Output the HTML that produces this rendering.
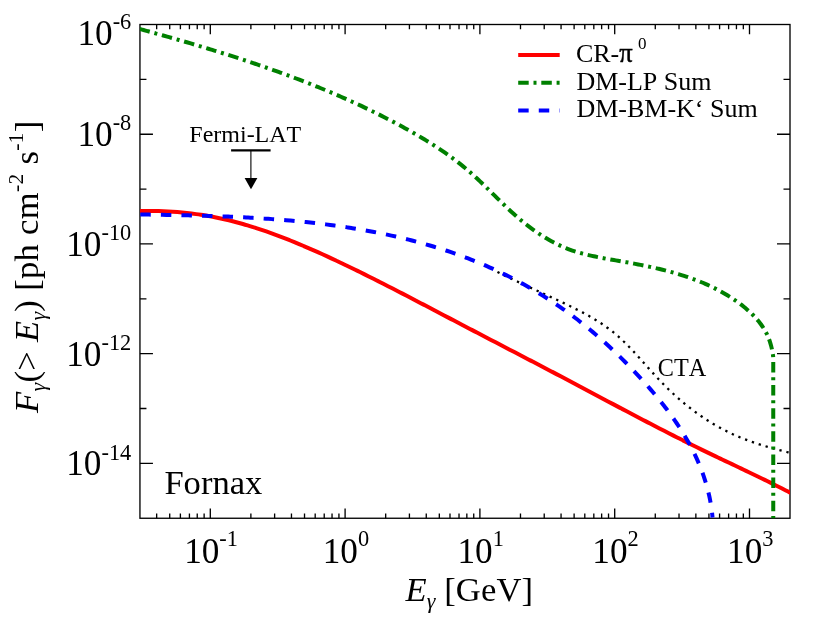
<!DOCTYPE html>
<html><head><meta charset="utf-8"><title>Fornax gamma-ray flux</title>
<style>
html,body{margin:0;padding:0;background:#fff;}
body{width:822px;height:617px;overflow:hidden;}
svg{display:block;will-change:transform;}
text{font-family:"Liberation Serif",serif;fill:#000;font-kerning:none;font-variant-ligatures:none;}
.it{font-style:italic;}
</style></head><body>
<svg width="822" height="617" viewBox="0 0 822 617">
<rect x="0" y="0" width="822" height="617" fill="#fff"/>
<defs><clipPath id="clip"><rect x="139.95" y="24.50" width="650.05" height="493.75"/></clipPath></defs>

<g stroke="#000" stroke-width="1.33" fill="none" stroke-linecap="butt">
<rect x="139.95" y="24.50" width="650.05" height="493.75"/>
<g stroke-width="1.33">
<path d="M156.66,24.50v4.70M156.66,518.25v-4.70"/>
<path d="M169.72,24.50v4.70M169.72,518.25v-4.70"/>
<path d="M180.39,24.50v4.70M180.39,518.25v-4.70"/>
<path d="M189.42,24.50v4.70M189.42,518.25v-4.70"/>
<path d="M197.24,24.50v4.70M197.24,518.25v-4.70"/>
<path d="M204.13,24.50v4.70M204.13,518.25v-4.70"/>
<path d="M210.30,24.50v9.70M210.30,518.25v-9.70"/>
<path d="M250.88,24.50v4.70M250.88,518.25v-4.70"/>
<path d="M274.62,24.50v4.70M274.62,518.25v-4.70"/>
<path d="M291.46,24.50v4.70M291.46,518.25v-4.70"/>
<path d="M304.52,24.50v4.70M304.52,518.25v-4.70"/>
<path d="M315.19,24.50v4.70M315.19,518.25v-4.70"/>
<path d="M324.22,24.50v4.70M324.22,518.25v-4.70"/>
<path d="M332.04,24.50v4.70M332.04,518.25v-4.70"/>
<path d="M338.93,24.50v4.70M338.93,518.25v-4.70"/>
<path d="M345.10,24.50v9.70M345.10,518.25v-9.70"/>
<path d="M385.68,24.50v4.70M385.68,518.25v-4.70"/>
<path d="M409.42,24.50v4.70M409.42,518.25v-4.70"/>
<path d="M426.26,24.50v4.70M426.26,518.25v-4.70"/>
<path d="M439.32,24.50v4.70M439.32,518.25v-4.70"/>
<path d="M449.99,24.50v4.70M449.99,518.25v-4.70"/>
<path d="M459.02,24.50v4.70M459.02,518.25v-4.70"/>
<path d="M466.84,24.50v4.70M466.84,518.25v-4.70"/>
<path d="M473.73,24.50v4.70M473.73,518.25v-4.70"/>
<path d="M479.90,24.50v9.70M479.90,518.25v-9.70"/>
<path d="M520.48,24.50v4.70M520.48,518.25v-4.70"/>
<path d="M544.22,24.50v4.70M544.22,518.25v-4.70"/>
<path d="M561.06,24.50v4.70M561.06,518.25v-4.70"/>
<path d="M574.12,24.50v4.70M574.12,518.25v-4.70"/>
<path d="M584.79,24.50v4.70M584.79,518.25v-4.70"/>
<path d="M593.82,24.50v4.70M593.82,518.25v-4.70"/>
<path d="M601.64,24.50v4.70M601.64,518.25v-4.70"/>
<path d="M608.53,24.50v4.70M608.53,518.25v-4.70"/>
<path d="M614.70,24.50v9.70M614.70,518.25v-9.70"/>
<path d="M655.28,24.50v4.70M655.28,518.25v-4.70"/>
<path d="M679.02,24.50v4.70M679.02,518.25v-4.70"/>
<path d="M695.86,24.50v4.70M695.86,518.25v-4.70"/>
<path d="M708.92,24.50v4.70M708.92,518.25v-4.70"/>
<path d="M719.59,24.50v4.70M719.59,518.25v-4.70"/>
<path d="M728.62,24.50v4.70M728.62,518.25v-4.70"/>
<path d="M736.44,24.50v4.70M736.44,518.25v-4.70"/>
<path d="M743.33,24.50v4.70M743.33,518.25v-4.70"/>
<path d="M749.50,24.50v9.70M749.50,518.25v-9.70"/>
<path d="M139.95,463.39h13.00M790.00,463.39h-13.00"/>
<path d="M139.95,408.53h6.50M790.00,408.53h-6.50"/>
<path d="M139.95,353.67h13.00M790.00,353.67h-13.00"/>
<path d="M139.95,298.81h6.50M790.00,298.81h-6.50"/>
<path d="M139.95,243.94h13.00M790.00,243.94h-13.00"/>
<path d="M139.95,189.08h6.50M790.00,189.08h-6.50"/>
<path d="M139.95,134.22h13.00M790.00,134.22h-13.00"/>
<path d="M139.95,79.36h6.50M790.00,79.36h-6.50"/>
</g></g>
<g clip-path="url(#clip)" fill="none">
<path d="M139.95,210.89 C140.73,210.89 143.07,210.89 144.63,210.89 C146.19,210.89 147.75,210.88 149.31,210.89 C150.87,210.90 152.43,210.91 153.99,210.94 C155.55,210.97 157.11,211.01 158.67,211.06 C160.23,211.11 161.79,211.16 163.35,211.23 C164.91,211.30 166.47,211.37 168.03,211.46 C169.59,211.55 171.15,211.64 172.71,211.75 C174.27,211.85 175.83,211.97 177.39,212.09 C178.95,212.22 180.51,212.35 182.07,212.50 C183.63,212.65 185.19,212.80 186.75,212.97 C188.31,213.14 189.87,213.32 191.43,213.51 C192.99,213.70 194.55,213.90 196.11,214.11 C197.67,214.32 199.23,214.54 200.79,214.78 C202.35,215.01 203.91,215.26 205.47,215.52 C207.03,215.78 208.59,216.05 210.15,216.33 C211.71,216.61 213.27,216.90 214.83,217.21 C216.39,217.52 217.95,217.84 219.51,218.17 C221.07,218.50 222.63,218.85 224.19,219.20 C225.75,219.56 227.31,219.93 228.87,220.31 C230.43,220.69 231.99,221.08 233.55,221.48 C235.11,221.88 236.67,222.30 238.23,222.72 C239.79,223.15 241.35,223.58 242.91,224.03 C244.47,224.47 246.03,224.93 247.59,225.40 C249.16,225.86 250.72,226.34 252.28,226.83 C253.84,227.32 255.40,227.81 256.96,228.32 C258.52,228.83 260.08,229.34 261.64,229.87 C263.20,230.39 264.76,230.93 266.32,231.47 C267.88,232.02 269.44,232.57 271.00,233.13 C272.56,233.69 274.12,234.26 275.68,234.84 C277.24,235.42 278.80,236.00 280.36,236.60 C281.92,237.19 283.48,237.79 285.04,238.40 C286.60,239.01 288.16,239.63 289.72,240.25 C291.28,240.88 292.84,241.51 294.40,242.15 C295.96,242.78 297.52,243.43 299.08,244.08 C300.64,244.73 302.20,245.39 303.76,246.05 C305.32,246.72 306.88,247.39 308.44,248.06 C310.00,248.74 311.56,249.42 313.12,250.11 C314.68,250.80 316.24,251.49 317.80,252.19 C319.36,252.89 320.92,253.59 322.48,254.30 C324.04,255.00 325.60,255.72 327.16,256.44 C328.72,257.15 330.28,257.87 331.84,258.60 C333.40,259.33 334.96,260.06 336.52,260.79 C338.08,261.52 339.64,262.26 341.20,263.00 C342.76,263.74 344.32,264.49 345.88,265.24 C347.44,265.99 349.00,266.74 350.56,267.49 C352.12,268.25 353.68,269.01 355.24,269.77 C356.80,270.53 358.36,271.30 359.92,272.06 C361.48,272.83 363.04,273.60 364.60,274.38 C366.16,275.15 367.72,275.93 369.28,276.71 C370.84,277.49 372.40,278.27 373.96,279.05 C375.52,279.84 377.08,280.62 378.64,281.41 C380.20,282.20 381.76,282.99 383.32,283.79 C384.88,284.58 386.44,285.38 388.00,286.17 C389.56,286.97 391.12,287.77 392.68,288.57 C394.24,289.37 395.80,290.18 397.36,290.98 C398.92,291.79 400.48,292.59 402.04,293.40 C403.60,294.21 405.16,295.02 406.72,295.83 C408.28,296.64 409.84,297.45 411.40,298.26 C412.96,299.07 414.52,299.89 416.08,300.70 C417.64,301.52 419.20,302.33 420.76,303.15 C422.32,303.97 423.88,304.78 425.44,305.60 C427.00,306.42 428.56,307.24 430.12,308.06 C431.68,308.87 433.24,309.69 434.80,310.51 C436.36,311.33 437.92,312.15 439.48,312.97 C441.04,313.79 442.60,314.61 444.16,315.43 C445.72,316.25 447.28,317.07 448.84,317.89 C450.40,318.71 451.96,319.52 453.52,320.34 C455.08,321.16 456.64,321.98 458.20,322.80 C459.76,323.61 461.32,324.43 462.88,325.25 C464.44,326.06 466.01,326.88 467.57,327.69 C469.13,328.51 470.69,329.32 472.25,330.14 C473.81,330.95 475.37,331.77 476.93,332.58 C478.49,333.39 480.05,334.21 481.61,335.02 C483.17,335.83 484.73,336.65 486.29,337.46 C487.85,338.27 489.41,339.09 490.97,339.90 C492.53,340.71 494.09,341.52 495.65,342.34 C497.21,343.15 498.77,343.96 500.33,344.77 C501.89,345.59 503.45,346.40 505.01,347.21 C506.57,348.02 508.13,348.84 509.69,349.65 C511.25,350.46 512.81,351.27 514.37,352.09 C515.93,352.90 517.49,353.71 519.05,354.53 C520.61,355.34 522.17,356.15 523.73,356.97 C525.29,357.78 526.85,358.59 528.41,359.41 C529.97,360.22 531.53,361.04 533.09,361.85 C534.65,362.67 536.21,363.48 537.77,364.30 C539.33,365.12 540.89,365.93 542.45,366.75 C544.01,367.57 545.57,368.39 547.13,369.20 C548.69,370.02 550.25,370.84 551.81,371.66 C553.37,372.48 554.93,373.30 556.49,374.12 C558.05,374.94 559.61,375.76 561.17,376.59 C562.73,377.41 564.29,378.23 565.85,379.06 C567.41,379.88 568.97,380.70 570.53,381.53 C572.09,382.36 573.65,383.18 575.21,384.01 C576.77,384.83 578.33,385.66 579.89,386.49 C581.45,387.32 583.01,388.15 584.57,388.97 C586.13,389.80 587.69,390.63 589.25,391.46 C590.81,392.29 592.37,393.12 593.93,393.95 C595.49,394.78 597.05,395.61 598.61,396.43 C600.17,397.26 601.73,398.09 603.29,398.92 C604.85,399.75 606.41,400.58 607.97,401.41 C609.53,402.23 611.09,403.06 612.65,403.89 C614.21,404.72 615.77,405.54 617.33,406.37 C618.89,407.20 620.45,408.02 622.01,408.85 C623.57,409.67 625.13,410.49 626.69,411.32 C628.25,412.14 629.81,412.96 631.37,413.78 C632.93,414.60 634.49,415.42 636.05,416.24 C637.61,417.06 639.17,417.88 640.73,418.70 C642.29,419.51 643.85,420.33 645.41,421.14 C646.97,421.95 648.53,422.77 650.09,423.58 C651.65,424.39 653.21,425.20 654.77,426.01 C656.33,426.81 657.89,427.62 659.45,428.42 C661.01,429.23 662.57,430.03 664.13,430.83 C665.69,431.63 667.25,432.43 668.81,433.22 C670.37,434.02 671.93,434.81 673.49,435.60 C675.05,436.40 676.61,437.18 678.17,437.97 C679.73,438.76 681.29,439.54 682.86,440.33 C684.42,441.11 685.98,441.89 687.54,442.66 C689.10,443.44 690.66,444.22 692.22,444.99 C693.78,445.76 695.34,446.53 696.90,447.29 C698.46,448.06 700.02,448.82 701.58,449.58 C703.14,450.34 704.70,451.10 706.26,451.86 C707.82,452.61 709.38,453.36 710.94,454.11 C712.50,454.87 714.06,455.61 715.62,456.36 C717.18,457.11 718.74,457.85 720.30,458.60 C721.86,459.34 723.42,460.09 724.98,460.83 C726.54,461.57 728.10,462.31 729.66,463.06 C731.22,463.80 732.78,464.54 734.34,465.28 C735.90,466.03 737.46,466.77 739.02,467.51 C740.58,468.25 742.14,469.00 743.70,469.74 C745.26,470.49 746.82,471.23 748.38,471.98 C749.94,472.73 751.50,473.48 753.06,474.23 C754.62,474.98 756.18,475.73 757.74,476.49 C759.30,477.24 760.86,478.00 762.42,478.76 C763.98,479.52 765.54,480.29 767.10,481.05 C768.66,481.82 770.22,482.59 771.78,483.37 C773.34,484.14 774.90,484.92 776.46,485.70 C778.02,486.48 779.58,487.27 781.14,488.06 C782.70,488.85 784.26,489.64 785.82,490.45 C787.38,491.25 789.72,492.46 790.50,492.86" stroke="#ff0000" stroke-width="4.0"/>
<path d="M497.45,272.08 C497.78,272.25 498.77,272.73 499.43,273.05 C500.09,273.38 500.75,273.70 501.41,274.02 C502.07,274.34 502.73,274.66 503.39,274.98 C504.05,275.30 504.71,275.62 505.37,275.93 C506.04,276.25 506.70,276.57 507.36,276.88 C508.02,277.20 508.68,277.52 509.35,277.83 C510.01,278.15 510.67,278.46 511.33,278.77 C512.00,279.09 512.66,279.40 513.32,279.71 C513.98,280.02 514.65,280.33 515.31,280.64 C515.97,280.96 516.64,281.27 517.30,281.58 C517.97,281.89 518.63,282.20 519.29,282.51 C519.96,282.81 520.62,283.12 521.29,283.43 C521.95,283.74 522.62,284.05 523.28,284.36 C523.95,284.66 524.61,284.97 525.28,285.28 C525.94,285.59 526.61,285.89 527.27,286.20 C527.94,286.51 528.60,286.81 529.27,287.12 C529.94,287.43 530.60,287.73 531.27,288.04 C531.94,288.34 532.60,288.65 533.27,288.96 C533.94,289.26 534.60,289.57 535.27,289.88 C535.94,290.18 536.61,290.49 537.27,290.79 C537.94,291.10 538.61,291.41 539.28,291.71 C539.95,292.02 540.61,292.33 541.28,292.63 C541.95,292.94 542.62,293.25 543.29,293.55 C543.96,293.86 544.63,294.17 545.30,294.48 C545.96,294.78 546.63,295.09 547.30,295.40 C547.97,295.71 548.64,296.02 549.31,296.33 C549.98,296.64 550.65,296.95 551.32,297.26 C551.99,297.57 552.67,297.88 553.34,298.19 C554.01,298.50 554.68,298.81 555.35,299.12 C556.02,299.43 556.69,299.75 557.36,300.06 C558.04,300.37 558.71,300.69 559.38,301.00 C560.05,301.32 560.72,301.63 561.40,301.95 C562.07,302.27 562.74,302.58 563.41,302.90 C564.08,303.22 564.75,303.54 565.42,303.86 C566.10,304.18 566.77,304.50 567.44,304.82 C568.11,305.15 568.78,305.47 569.44,305.80 C570.11,306.12 570.78,306.45 571.45,306.78 C572.12,307.10 572.78,307.43 573.45,307.77 C574.12,308.10 574.78,308.43 575.44,308.77 C576.11,309.10 576.77,309.44 577.43,309.78 C578.09,310.11 578.76,310.45 579.41,310.80 C580.07,311.14 580.73,311.48 581.39,311.83 C582.04,312.18 582.70,312.53 583.35,312.88 C584.01,313.23 584.66,313.58 585.31,313.94 C585.96,314.29 586.61,314.65 587.25,315.01 C587.90,315.37 588.54,315.73 589.19,316.10 C589.83,316.47 590.47,316.83 591.11,317.20 C591.75,317.58 592.38,317.95 593.02,318.33 C593.65,318.70 594.28,319.08 594.91,319.47 C595.54,319.85 596.17,320.23 596.80,320.62 C597.42,321.01 598.04,321.40 598.66,321.80 C599.28,322.19 599.90,322.59 600.51,322.99 C601.13,323.39 601.74,323.80 602.34,324.21 C602.95,324.62 603.56,325.03 604.16,325.45 C604.76,325.86 605.36,326.28 605.96,326.70 C606.55,327.13 607.15,327.55 607.74,327.99 C608.32,328.42 608.91,328.85 609.49,329.29 C610.08,329.73 610.65,330.17 611.23,330.62 C611.81,331.07 612.38,331.52 612.94,331.97 C613.51,332.43 614.08,332.89 614.64,333.35 C615.20,333.81 615.75,334.28 616.31,334.75 C616.86,335.23 617.41,335.70 617.96,336.18 C618.50,336.66 619.05,337.15 619.59,337.63 C620.13,338.12 620.66,338.61 621.20,339.10 C621.73,339.60 622.26,340.10 622.79,340.60 C623.32,341.10 623.85,341.60 624.37,342.11 C624.89,342.61 625.41,343.12 625.93,343.64 C626.45,344.15 626.96,344.66 627.48,345.18 C627.99,345.70 628.50,346.22 629.01,346.74 C629.52,347.27 630.03,347.79 630.53,348.32 C631.04,348.84 631.54,349.37 632.04,349.90 C632.55,350.44 633.05,350.97 633.55,351.50 C634.05,352.04 634.54,352.58 635.04,353.11 C635.54,353.65 636.03,354.19 636.52,354.73 C637.02,355.27 637.51,355.82 638.00,356.36 C638.49,356.90 638.99,357.45 639.48,357.99 C639.97,358.54 640.46,359.08 640.94,359.63 C641.43,360.18 641.92,360.73 642.41,361.28 C642.90,361.82 643.39,362.37 643.87,362.92 C644.36,363.47 644.85,364.02 645.34,364.57 C645.83,365.12 646.31,365.67 646.80,366.22 C647.29,366.77 647.78,367.32 648.27,367.87 C648.75,368.42 649.24,368.97 649.73,369.51 C650.22,370.06 650.71,370.61 651.20,371.16 C651.69,371.71 652.19,372.25 652.68,372.80 C653.17,373.34 653.67,373.89 654.16,374.43 C654.66,374.97 655.15,375.52 655.65,376.06 C656.15,376.60 656.64,377.14 657.15,377.68 C657.65,378.22 658.15,378.75 658.65,379.29 C659.15,379.82 659.66,380.36 660.17,380.89 C660.67,381.42 661.18,381.95 661.69,382.48 C662.20,383.00 662.72,383.53 663.23,384.05 C663.75,384.58 664.26,385.10 664.78,385.62 C665.30,386.14 665.82,386.66 666.34,387.17 C666.87,387.69 667.39,388.20 667.92,388.71 C668.44,389.22 668.97,389.73 669.50,390.24 C670.03,390.75 670.56,391.25 671.09,391.75 C671.63,392.26 672.16,392.76 672.70,393.26 C673.24,393.75 673.78,394.25 674.32,394.74 C674.86,395.24 675.40,395.73 675.95,396.22 C676.49,396.71 677.04,397.20 677.59,397.68 C678.14,398.17 678.69,398.65 679.24,399.13 C679.80,399.61 680.35,400.09 680.91,400.56 C681.46,401.04 682.02,401.51 682.58,401.98 C683.14,402.45 683.71,402.92 684.27,403.38 C684.83,403.85 685.40,404.31 685.97,404.77 C686.54,405.23 687.11,405.69 687.68,406.15 C688.25,406.60 688.82,407.05 689.40,407.50 C689.98,407.95 690.55,408.40 691.13,408.85 C691.71,409.29 692.30,409.73 692.88,410.17 C693.46,410.61 694.05,411.05 694.64,411.48 C695.22,411.92 695.81,412.35 696.40,412.78 C697.00,413.21 697.59,413.63 698.19,414.05 C698.78,414.48 699.38,414.90 699.98,415.32 C700.58,415.73 701.18,416.15 701.78,416.56 C702.38,416.97 702.99,417.38 703.60,417.79 C704.20,418.19 704.81,418.59 705.42,418.99 C706.03,419.39 706.65,419.79 707.26,420.19 C707.88,420.58 708.49,420.97 709.11,421.36 C709.73,421.75 710.35,422.13 710.98,422.51 C711.60,422.90 712.22,423.27 712.85,423.65 C713.48,424.03 714.11,424.40 714.74,424.77 C715.37,425.14 716.00,425.50 716.63,425.87 C717.27,426.23 717.91,426.59 718.54,426.95 C719.18,427.30 719.82,427.66 720.47,428.01 C721.11,428.36 721.75,428.70 722.40,429.05 C723.05,429.39 723.70,429.73 724.35,430.07 C725.00,430.40 725.65,430.74 726.30,431.07 C726.96,431.40 727.62,431.73 728.27,432.05 C728.93,432.37 729.59,432.69 730.26,433.01 C730.92,433.32 731.58,433.64 732.25,433.95 C732.92,434.26 733.59,434.56 734.26,434.87 C734.93,435.17 735.60,435.47 736.27,435.76 C736.95,436.06 737.63,436.35 738.30,436.64 C738.98,436.92 739.66,437.21 740.35,437.49 C741.03,437.77 741.71,438.05 742.40,438.32 C743.09,438.60 743.77,438.87 744.46,439.13 C745.15,439.40 745.85,439.66 746.54,439.92 C747.23,440.19 747.93,440.44 748.62,440.70 C749.32,440.95 750.02,441.20 750.71,441.45 C751.41,441.70 752.11,441.94 752.81,442.18 C753.52,442.43 754.22,442.67 754.92,442.90 C755.62,443.14 756.33,443.37 757.03,443.60 C757.74,443.83 758.44,444.06 759.15,444.29 C759.86,444.51 760.57,444.74 761.27,444.96 C761.98,445.18 762.69,445.39 763.40,445.61 C764.11,445.83 764.82,446.04 765.53,446.25 C766.24,446.46 766.95,446.67 767.66,446.88 C768.37,447.08 769.08,447.29 769.79,447.49 C770.50,447.69 771.22,447.89 771.93,448.09 C772.64,448.29 773.35,448.48 774.06,448.68 C774.77,448.87 775.48,449.07 776.19,449.26 C776.90,449.45 777.61,449.64 778.32,449.82 C779.03,450.01 779.74,450.20 780.45,450.38 C781.16,450.57 781.87,450.75 782.57,450.93 C783.28,451.11 783.99,451.29 784.69,451.47 C785.40,451.65 786.11,451.83 786.81,452.00 C787.51,452.18 788.22,452.35 788.92,452.53 C789.62,452.70 790.67,452.96 791.02,453.05" stroke="#000" stroke-width="2.3" stroke-dasharray="2.3 4.9"/>
<path d="M139.61,28.93 C140.27,29.11 142.24,29.65 143.55,30.02 C144.86,30.38 146.18,30.74 147.49,31.10 C148.80,31.47 150.11,31.83 151.43,32.20 C152.74,32.56 154.05,32.93 155.36,33.30 C156.67,33.66 157.99,34.03 159.30,34.40 C160.61,34.77 161.92,35.14 163.23,35.51 C164.55,35.88 165.86,36.25 167.17,36.62 C168.48,37.00 169.79,37.37 171.10,37.75 C172.41,38.12 173.72,38.50 175.03,38.87 C176.34,39.25 177.65,39.63 178.96,40.01 C180.27,40.39 181.58,40.77 182.89,41.15 C184.20,41.53 185.51,41.91 186.82,42.29 C188.13,42.68 189.44,43.06 190.74,43.45 C192.05,43.83 193.36,44.22 194.67,44.61 C195.98,45.00 197.28,45.39 198.59,45.78 C199.90,46.17 201.20,46.56 202.51,46.96 C203.81,47.35 205.12,47.75 206.42,48.14 C207.73,48.54 209.03,48.94 210.34,49.34 C211.64,49.74 212.95,50.14 214.25,50.54 C215.55,50.94 216.86,51.34 218.16,51.75 C219.46,52.16 220.76,52.56 222.06,52.97 C223.37,53.38 224.67,53.79 225.97,54.20 C227.27,54.61 228.57,55.03 229.87,55.44 C231.16,55.86 232.46,56.27 233.76,56.69 C235.06,57.11 236.36,57.53 237.65,57.95 C238.95,58.37 240.25,58.80 241.54,59.22 C242.84,59.65 244.13,60.07 245.43,60.50 C246.72,60.93 248.02,61.36 249.31,61.80 C250.60,62.23 251.89,62.66 253.19,63.10 C254.48,63.54 255.77,63.97 257.06,64.41 C258.35,64.85 259.64,65.30 260.93,65.74 C262.22,66.18 263.50,66.63 264.79,67.08 C266.08,67.53 267.36,67.98 268.65,68.43 C269.94,68.88 271.22,69.34 272.50,69.79 C273.79,70.25 275.07,70.71 276.35,71.17 C277.64,71.63 278.92,72.09 280.20,72.56 C281.48,73.02 282.76,73.49 284.04,73.96 C285.32,74.43 286.60,74.90 287.87,75.37 C289.15,75.85 290.43,76.33 291.70,76.80 C292.98,77.28 294.25,77.76 295.52,78.25 C296.80,78.73 298.07,79.22 299.34,79.70 C300.61,80.19 301.88,80.68 303.15,81.18 C304.42,81.67 305.69,82.16 306.96,82.66 C308.23,83.16 309.49,83.66 310.76,84.16 C312.02,84.67 313.29,85.17 314.55,85.68 C315.82,86.19 317.08,86.70 318.34,87.21 C319.60,87.73 320.86,88.24 322.12,88.76 C323.38,89.28 324.64,89.80 325.89,90.32 C327.15,90.85 328.41,91.38 329.66,91.90 C330.91,92.43 332.17,92.97 333.42,93.50 C334.67,94.04 335.92,94.57 337.17,95.11 C338.42,95.65 339.67,96.20 340.92,96.74 C342.17,97.29 343.41,97.84 344.66,98.39 C345.90,98.94 347.15,99.50 348.39,100.06 C349.63,100.61 350.87,101.18 352.11,101.74 C353.35,102.30 354.59,102.87 355.83,103.44 C357.06,104.01 358.30,104.58 359.53,105.16 C360.77,105.73 362.00,106.31 363.23,106.90 C364.47,107.48 365.70,108.06 366.93,108.65 C368.15,109.24 369.38,109.83 370.61,110.43 C371.83,111.02 373.06,111.62 374.28,112.22 C375.51,112.82 376.73,113.43 377.95,114.03 C379.17,114.64 380.39,115.25 381.61,115.87 C382.82,116.48 384.04,117.10 385.25,117.72 C386.47,118.34 387.68,118.97 388.89,119.59 C390.11,120.22 391.32,120.85 392.52,121.49 C393.73,122.12 394.94,122.76 396.14,123.40 C397.35,124.04 398.55,124.69 399.76,125.34 C400.96,125.99 402.16,126.64 403.36,127.30 C404.56,127.95 405.75,128.61 406.95,129.27 C408.14,129.94 409.34,130.61 410.53,131.28 C411.72,131.95 412.91,132.62 414.09,133.31 C415.28,133.99 416.46,134.67 417.64,135.36 C418.82,136.05 420.00,136.74 421.18,137.44 C422.35,138.14 423.52,138.85 424.69,139.55 C425.86,140.26 427.02,140.98 428.19,141.70 C429.35,142.42 430.50,143.14 431.66,143.87 C432.81,144.60 433.96,145.34 435.11,146.08 C436.25,146.83 437.39,147.57 438.53,148.33 C439.67,149.08 440.80,149.84 441.93,150.61 C443.05,151.38 444.18,152.15 445.29,152.93 C446.41,153.71 447.52,154.50 448.63,155.29 C449.74,156.09 450.84,156.89 451.94,157.69 C453.03,158.50 454.13,159.32 455.21,160.14 C456.30,160.96 457.38,161.79 458.45,162.63 C459.52,163.47 460.59,164.31 461.65,165.16 C462.71,166.02 463.76,166.88 464.81,167.75 C465.86,168.62 466.90,169.49 467.93,170.38 C468.97,171.27 469.99,172.16 471.02,173.06 C472.04,173.96 473.05,174.87 474.06,175.79 C475.07,176.71 476.07,177.63 477.07,178.56 C478.07,179.49 479.06,180.42 480.05,181.36 C481.04,182.30 482.02,183.25 483.01,184.19 C483.99,185.14 484.97,186.09 485.95,187.05 C486.93,188.00 487.90,188.96 488.87,189.92 C489.85,190.88 490.82,191.84 491.79,192.80 C492.77,193.76 493.74,194.72 494.71,195.68 C495.68,196.64 496.66,197.61 497.63,198.57 C498.60,199.53 499.58,200.48 500.56,201.44 C501.53,202.40 502.51,203.35 503.50,204.30 C504.48,205.25 505.46,206.20 506.45,207.14 C507.44,208.08 508.43,209.02 509.43,209.95 C510.43,210.89 511.43,211.82 512.44,212.74 C513.45,213.66 514.46,214.57 515.48,215.48 C516.50,216.39 517.53,217.29 518.56,218.18 C519.59,219.07 520.63,219.95 521.68,220.83 C522.73,221.70 523.79,222.56 524.85,223.42 C525.92,224.27 526.99,225.11 528.07,225.95 C529.15,226.78 530.24,227.60 531.34,228.41 C532.44,229.22 533.54,230.02 534.65,230.80 C535.77,231.59 536.89,232.36 538.01,233.12 C539.14,233.88 540.28,234.63 541.42,235.36 C542.57,236.09 543.72,236.81 544.88,237.51 C546.04,238.21 547.20,238.90 548.38,239.57 C549.55,240.24 550.74,240.90 551.92,241.54 C553.11,242.18 554.31,242.80 555.52,243.40 C556.72,244.01 557.93,244.60 559.15,245.17 C560.37,245.74 561.60,246.29 562.83,246.82 C564.07,247.35 565.31,247.87 566.56,248.36 C567.80,248.86 569.06,249.33 570.32,249.79 C571.58,250.24 572.85,250.68 574.13,251.09 C575.41,251.51 576.69,251.91 577.98,252.30 C579.26,252.68 580.56,253.05 581.86,253.41 C583.16,253.76 584.46,254.10 585.77,254.43 C587.08,254.76 588.40,255.07 589.72,255.38 C591.03,255.68 592.36,255.98 593.69,256.26 C595.01,256.55 596.34,256.82 597.68,257.09 C599.01,257.36 600.35,257.62 601.69,257.87 C603.03,258.13 604.38,258.37 605.72,258.62 C607.07,258.86 608.42,259.10 609.77,259.34 C611.12,259.58 612.47,259.81 613.83,260.04 C615.18,260.28 616.54,260.51 617.89,260.74 C619.25,260.98 620.61,261.21 621.96,261.45 C623.32,261.68 624.68,261.92 626.04,262.16 C627.40,262.41 628.76,262.65 630.11,262.90 C631.47,263.15 632.83,263.40 634.19,263.65 C635.54,263.91 636.90,264.17 638.26,264.43 C639.61,264.70 640.97,264.96 642.32,265.24 C643.68,265.51 645.03,265.79 646.38,266.07 C647.73,266.35 649.08,266.64 650.43,266.93 C651.78,267.23 653.13,267.53 654.47,267.83 C655.82,268.14 657.16,268.45 658.50,268.77 C659.84,269.09 661.18,269.41 662.52,269.74 C663.85,270.07 665.19,270.41 666.52,270.76 C667.85,271.11 669.17,271.46 670.50,271.82 C671.82,272.18 673.14,272.55 674.46,272.93 C675.78,273.31 677.09,273.70 678.41,274.09 C679.72,274.49 681.02,274.89 682.33,275.31 C683.63,275.72 684.93,276.15 686.22,276.58 C687.52,277.01 688.81,277.45 690.09,277.91 C691.38,278.36 692.66,278.82 693.93,279.30 C695.21,279.77 696.48,280.26 697.75,280.75 C699.01,281.25 700.27,281.76 701.53,282.27 C702.78,282.79 704.03,283.32 705.27,283.87 C706.52,284.41 707.75,284.96 708.99,285.53 C710.22,286.10 711.44,286.68 712.66,287.27 C713.88,287.86 715.09,288.47 716.30,289.09 C717.50,289.71 718.70,290.34 719.90,290.98 C721.09,291.63 722.27,292.29 723.45,292.97 C724.63,293.64 725.80,294.33 726.96,295.03 C728.12,295.74 729.28,296.46 730.43,297.19 C731.57,297.92 732.71,298.67 733.84,299.44 C734.97,300.20 736.10,300.98 737.21,301.78 C738.33,302.58 739.43,303.39 740.53,304.22 C741.62,305.05 742.71,305.90 743.78,306.76 C744.85,307.62 745.91,308.50 746.95,309.40 C747.99,310.30 749.02,311.21 750.02,312.14 C751.02,313.08 752.01,314.03 752.96,315.00 C753.92,315.96 754.86,316.95 755.77,317.95 C756.68,318.96 757.57,319.98 758.42,321.02 C759.27,322.07 760.10,323.13 760.89,324.21 C761.68,325.29 762.44,326.38 763.16,327.50 C763.88,328.62 764.57,329.76 765.21,330.92 C765.86,332.08 766.47,333.25 767.03,334.45 C767.60,335.65 768.12,336.87 768.61,338.10 C769.10,339.33 769.55,340.59 769.96,341.85 C770.37,343.12 770.75,344.40 771.09,345.69 C771.43,346.98 771.74,348.29 772.01,349.61 C772.29,350.92 772.54,352.25 772.74,353.59 C772.95,354.92 773.17,356.27 773.25,357.62 C773.33,358.97 773.25,360.33 773.25,361.69 C773.25,363.05 773.25,364.42 773.25,365.79 C773.25,367.17 773.25,369.24 773.25,369.93 L773.25,519.25" stroke="#008000" stroke-width="4.0" stroke-dasharray="10.51 4.81 3 4.8"/>
<path d="M140.31,214.50 C141.04,214.51 143.20,214.54 144.65,214.56 C146.10,214.58 147.55,214.60 149.00,214.62 C150.45,214.64 151.90,214.67 153.35,214.69 C154.81,214.71 156.26,214.73 157.71,214.76 C159.17,214.78 160.63,214.80 162.08,214.83 C163.54,214.85 165.00,214.87 166.46,214.90 C167.92,214.93 169.38,214.95 170.84,214.98 C172.30,215.01 173.76,215.03 175.23,215.06 C176.69,215.09 178.15,215.12 179.62,215.15 C181.08,215.18 182.55,215.21 184.02,215.25 C185.48,215.28 186.95,215.31 188.42,215.35 C189.89,215.38 191.36,215.42 192.83,215.45 C194.30,215.49 195.77,215.53 197.24,215.57 C198.71,215.61 200.19,215.65 201.66,215.69 C203.13,215.73 204.60,215.78 206.08,215.82 C207.55,215.87 209.03,215.91 210.50,215.96 C211.98,216.01 213.45,216.06 214.93,216.11 C216.41,216.16 217.88,216.22 219.36,216.27 C220.84,216.33 222.32,216.38 223.80,216.44 C225.27,216.50 226.75,216.56 228.23,216.62 C229.71,216.68 231.19,216.75 232.67,216.81 C234.15,216.88 235.63,216.95 237.11,217.02 C238.59,217.09 240.07,217.16 241.55,217.23 C243.03,217.31 244.51,217.38 245.99,217.46 C247.47,217.54 248.96,217.62 250.44,217.70 C251.92,217.79 253.40,217.87 254.88,217.96 C256.36,218.05 257.85,218.14 259.33,218.23 C260.81,218.32 262.29,218.42 263.77,218.52 C265.25,218.61 266.74,218.71 268.22,218.82 C269.70,218.92 271.18,219.03 272.66,219.14 C274.14,219.24 275.63,219.35 277.11,219.47 C278.59,219.58 280.07,219.70 281.55,219.82 C283.03,219.94 284.51,220.06 285.99,220.19 C287.47,220.31 288.95,220.44 290.43,220.57 C291.91,220.71 293.39,220.84 294.87,220.98 C296.35,221.12 297.83,221.26 299.30,221.40 C300.78,221.55 302.26,221.69 303.74,221.85 C305.22,222.00 306.69,222.15 308.17,222.31 C309.65,222.47 311.12,222.63 312.60,222.79 C314.07,222.96 315.55,223.13 317.02,223.30 C318.50,223.47 319.97,223.65 321.44,223.83 C322.91,224.00 324.39,224.19 325.86,224.37 C327.33,224.56 328.80,224.75 330.27,224.95 C331.74,225.14 333.21,225.34 334.68,225.54 C336.15,225.74 337.62,225.95 339.08,226.16 C340.55,226.37 342.02,226.58 343.48,226.80 C344.95,227.02 346.41,227.24 347.87,227.47 C349.34,227.69 350.80,227.92 352.26,228.16 C353.72,228.39 355.18,228.63 356.64,228.88 C358.10,229.12 359.56,229.37 361.02,229.62 C362.47,229.87 363.93,230.13 365.39,230.39 C366.84,230.65 368.29,230.92 369.75,231.19 C371.20,231.46 372.65,231.73 374.10,232.01 C375.55,232.29 377.00,232.58 378.45,232.87 C379.90,233.16 381.34,233.45 382.79,233.75 C384.23,234.05 385.68,234.35 387.12,234.66 C388.56,234.97 390.00,235.28 391.44,235.60 C392.88,235.92 394.32,236.24 395.76,236.57 C397.19,236.90 398.63,237.23 400.06,237.57 C401.50,237.91 402.93,238.26 404.36,238.61 C405.79,238.96 407.22,239.31 408.65,239.67 C410.07,240.03 411.50,240.40 412.92,240.77 C414.35,241.14 415.77,241.52 417.19,241.90 C418.61,242.28 420.03,242.67 421.45,243.06 C422.86,243.46 424.28,243.86 425.69,244.26 C427.11,244.67 428.52,245.08 429.93,245.49 C431.34,245.91 432.75,246.33 434.15,246.76 C435.56,247.19 436.96,247.62 438.37,248.06 C439.77,248.50 441.17,248.95 442.57,249.40 C443.97,249.85 445.36,250.31 446.76,250.77 C448.15,251.23 449.54,251.71 450.93,252.18 C452.32,252.66 453.71,253.14 455.10,253.63 C456.48,254.12 457.87,254.61 459.25,255.12 C460.63,255.62 462.01,256.13 463.39,256.64 C464.76,257.15 466.14,257.68 467.51,258.20 C468.88,258.73 470.25,259.26 471.62,259.81 C472.99,260.35 474.35,260.89 475.72,261.45 C477.08,262.00 478.44,262.56 479.80,263.13 C481.16,263.70 482.51,264.27 483.87,264.85 C485.22,265.44 486.57,266.02 487.92,266.62 C489.27,267.21 490.61,267.82 491.96,268.43 C493.30,269.04 494.64,269.65 495.98,270.28 C497.32,270.90 498.65,271.53 499.98,272.17 C501.32,272.80 502.64,273.45 503.97,274.10 C505.30,274.75 506.62,275.40 507.94,276.07 C509.26,276.73 510.58,277.40 511.89,278.08 C513.21,278.76 514.52,279.44 515.82,280.13 C517.13,280.83 518.44,281.52 519.74,282.23 C521.04,282.93 522.34,283.64 523.63,284.36 C524.92,285.08 526.21,285.80 527.50,286.53 C528.79,287.26 530.07,288.00 531.35,288.75 C532.63,289.49 533.91,290.24 535.18,291.00 C536.45,291.75 537.72,292.52 538.98,293.29 C540.25,294.06 541.51,294.83 542.76,295.61 C544.02,296.40 545.27,297.19 546.52,297.98 C547.77,298.78 549.01,299.58 550.25,300.39 C551.49,301.19 552.73,302.01 553.96,302.83 C555.19,303.65 556.42,304.48 557.64,305.31 C558.86,306.14 560.08,306.98 561.29,307.83 C562.51,308.67 563.72,309.52 564.92,310.38 C566.13,311.24 567.33,312.10 568.52,312.97 C569.72,313.84 570.91,314.72 572.09,315.60 C573.28,316.48 574.46,317.37 575.63,318.26 C576.81,319.15 577.98,320.05 579.14,320.96 C580.31,321.87 581.47,322.78 582.62,323.70 C583.78,324.61 584.93,325.54 586.08,326.46 C587.22,327.39 588.36,328.33 589.50,329.27 C590.64,330.21 591.77,331.16 592.90,332.11 C594.02,333.06 595.15,334.02 596.27,334.98 C597.38,335.94 598.50,336.91 599.61,337.88 C600.71,338.85 601.82,339.83 602.92,340.82 C604.02,341.80 605.12,342.79 606.21,343.78 C607.30,344.78 608.38,345.78 609.47,346.78 C610.55,347.79 611.63,348.80 612.70,349.81 C613.78,350.83 614.85,351.84 615.91,352.87 C616.98,353.89 618.04,354.92 619.10,355.96 C620.16,356.99 621.21,358.03 622.26,359.07 C623.31,360.12 624.36,361.17 625.40,362.22 C626.44,363.27 627.48,364.33 628.51,365.39 C629.55,366.45 630.58,367.52 631.60,368.59 C632.63,369.66 633.65,370.74 634.67,371.82 C635.69,372.90 636.71,373.98 637.72,375.07 C638.73,376.16 639.74,377.25 640.74,378.35 C641.75,379.44 642.75,380.54 643.74,381.65 C644.74,382.75 645.73,383.86 646.72,384.98 C647.70,386.09 648.68,387.21 649.66,388.34 C650.63,389.46 651.61,390.59 652.57,391.72 C653.53,392.85 654.49,393.99 655.45,395.13 C656.40,396.27 657.34,397.42 658.28,398.57 C659.22,399.72 660.16,400.88 661.08,402.04 C662.01,403.20 662.93,404.37 663.84,405.54 C664.75,406.71 665.65,407.89 666.54,409.07 C667.44,410.25 668.33,411.44 669.20,412.63 C670.08,413.82 670.95,415.02 671.81,416.22 C672.67,417.42 673.53,418.63 674.37,419.84 C675.21,421.05 676.04,422.27 676.87,423.50 C677.69,424.72 678.50,425.95 679.31,427.18 C680.11,428.42 680.90,429.66 681.68,430.90 C682.47,432.15 683.24,433.40 684.00,434.65 C684.76,435.91 685.51,437.17 686.24,438.44 C686.98,439.71 687.70,440.98 688.42,442.26 C689.13,443.54 689.83,444.83 690.52,446.12 C691.21,447.41 691.88,448.71 692.55,450.01 C693.21,451.31 693.86,452.62 694.50,453.94 C695.13,455.25 695.76,456.58 696.37,457.90 C696.97,459.23 697.57,460.56 698.15,461.90 C698.73,463.24 699.30,464.59 699.85,465.94 C700.40,467.30 700.94,468.66 701.46,470.02 C701.98,471.39 702.49,472.76 702.98,474.14 C703.47,475.52 703.94,476.90 704.40,478.29 C704.86,479.68 705.30,481.08 705.73,482.49 C706.16,483.89 706.57,485.30 706.96,486.72 C707.35,488.14 707.73,489.56 708.08,491.00 C708.44,492.43 708.78,493.87 709.11,495.31 C709.43,496.76 709.73,498.21 710.02,499.67 C710.31,501.13 710.57,502.60 710.82,504.07 C711.07,505.54 711.30,507.02 711.51,508.51 C711.72,510.00 711.91,511.49 712.09,513.00 C712.26,514.50 712.47,516.77 712.54,517.53" stroke="#0000ff" stroke-width="4.0" stroke-dasharray="10.47 10.1"/>
</g>
<text x="131.3" y="45.30" text-anchor="end" font-size="35.2">10<tspan font-size="22.4" dy="-15.9">-6</tspan></text>
<text x="131.3" y="146.32" text-anchor="end" font-size="35.2">10<tspan font-size="22.4" dy="-15.9">-8</tspan></text>
<text x="131.3" y="256.04" text-anchor="end" font-size="35.2">10<tspan font-size="22.4" dy="-15.9">-10</tspan></text>
<text x="131.3" y="365.77" text-anchor="end" font-size="35.2">10<tspan font-size="22.4" dy="-15.9">-12</tspan></text>
<text x="131.3" y="475.49" text-anchor="end" font-size="35.2">10<tspan font-size="22.4" dy="-15.9">-14</tspan></text>
<text x="211.10" y="563" text-anchor="middle" font-size="35.2">10<tspan font-size="22.4" dy="-17.2">-1</tspan></text>
<text x="345.90" y="563" text-anchor="middle" font-size="35.2">10<tspan font-size="22.4" dy="-17.2">0</tspan></text>
<text x="480.70" y="563" text-anchor="middle" font-size="35.2">10<tspan font-size="22.4" dy="-17.2">1</tspan></text>
<text x="615.50" y="563" text-anchor="middle" font-size="35.2">10<tspan font-size="22.4" dy="-17.2">2</tspan></text>
<text x="750.30" y="563" text-anchor="middle" font-size="35.2">10<tspan font-size="22.4" dy="-17.2">3</tspan></text>
<text x="405.4" y="600.7" font-size="34.6" letter-spacing="0.12"><tspan class="it">E</tspan><tspan font-size="22" dy="7" class="it">γ</tspan><tspan dy="-7"> [GeV]</tspan></text>
<text transform="translate(38.0,413.0) rotate(-90)" font-size="34.6" letter-spacing="0.3"><tspan class="it">F</tspan><tspan font-size="22" dy="7" class="it">γ</tspan><tspan dy="-7">(&gt; </tspan><tspan class="it">E</tspan><tspan font-size="22" dy="7" class="it">γ</tspan><tspan dy="-7">) [ph cm</tspan><tspan font-size="21.5" dy="-15.5">-2</tspan><tspan dy="15.5"> s</tspan><tspan font-size="21.5" dy="-15.5">-1</tspan><tspan dy="15.5">]</tspan></text>
<g fill="none" stroke-width="4.0">
<path d="M518.2,55.1H559.7" stroke="#ff0000"/>
<path d="M518.2,82.7H559.7" stroke="#008000" stroke-dasharray="10.5 4.8 3 4.8"/>
<path d="M518.2,110.5H559.7" stroke="#0000ff" stroke-dasharray="10.47 10.1"/>
</g>
<text x="575.9" y="62.0" font-size="26">CR-<tspan stroke="#000" stroke-width="0.45" font-size="26.5">π</tspan><tspan font-size="17" dy="-12.6" dx="5.3">0</tspan></text>
<text x="576.4" y="89.7" font-size="26">DM-LP Sum</text>
<text x="576.4" y="116.9" font-size="26">DM-BM-K‘ Sum</text>
<text x="189.3" y="141.9" font-size="24.0">Fermi-LAT</text>
<path d="M231.1,150.4H270.6" stroke="#000" stroke-width="2.4" fill="none"/>
<path d="M250.9,150.4V180" stroke="#000" stroke-width="1.1" fill="none"/>
<path d="M244.6,178H257.4L251,189.2Z" fill="#000"/>
<text x="657.8" y="376.4" font-size="24.2">CTA</text>
<text x="164.4" y="493.8" font-size="34.6">Fornax</text>
</svg></body></html>
